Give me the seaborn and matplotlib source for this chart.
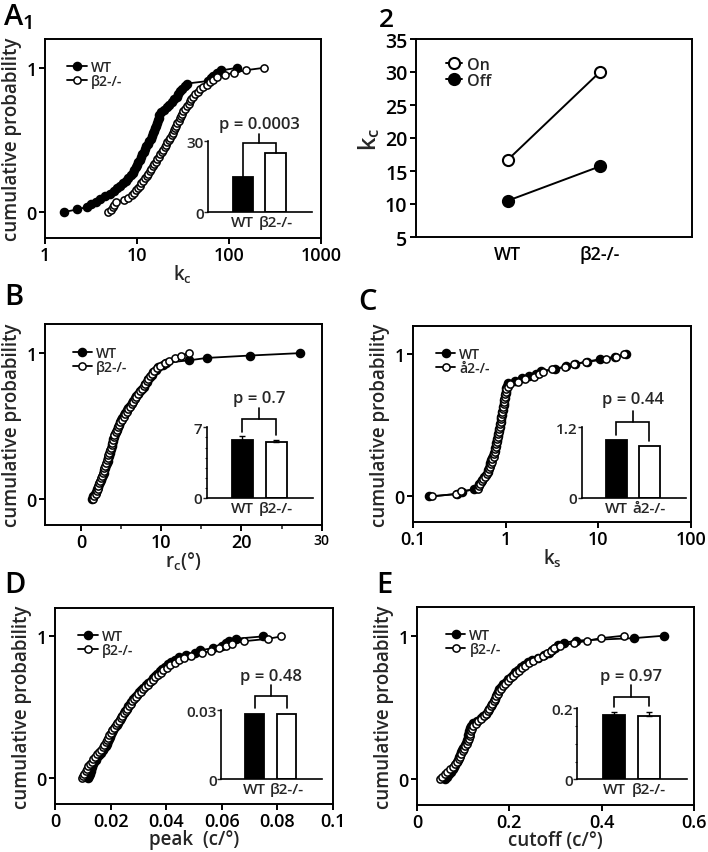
import numpy as np
import pandas as pd
import matplotlib
matplotlib.use('Agg')
import matplotlib.pyplot as plt
import seaborn as sns
from matplotlib.ticker import FixedLocator, FixedFormatter, NullLocator

sns.set_theme(style='ticks')
plt.rcParams['font.family'] = ['Open Sans', 'DejaVu Sans']
plt.rcParams['font.weight'] = 'semibold'
plt.rcParams['axes.labelweight'] = 'semibold'
plt.rcParams['mathtext.fontset'] = 'custom'
plt.rcParams['mathtext.rm'] = 'Open Sans:semibold'
plt.rcParams['mathtext.it'] = 'Open Sans:semibold'

# ---------------- data ----------------
genotypes = ['WT', 'β2-/-']
genotypes_c = ['WT', 'å2-/-']

# A1: kc
kc_wt = [1.6, 2.25, 2.9, 3.2, 3.6, 4.0, 4.5, 5.1, 5.6, 6.1, 6.6, 7.1, 7.6, 8.1, 8.6, 9.0, 9.4, 9.7,
         10.0, 10.4, 10.8, 11.1, 11.5, 11.8, 12.2, 12.7, 13.2, 13.7, 14.2, 14.7, 15.1, 15.5, 15.9,
         16.3, 16.6, 16.9, 17.2, 17.6, 18.5, 19.5, 21.0, 22.5, 24.0, 25.5, 27.0, 28.3, 29.5, 31.0,
         33.0, 35.0, 60, 64, 68, 75, 82, 123]
kc_ko = [4.9, 5.2, 5.5, 5.7, 5.9, 7.2, 8.0, 8.8, 9.4, 9.9, 10.4, 10.8, 11.2, 11.7, 12.2, 12.8, 13.3,
         13.8, 14.3, 14.8, 15.4, 16.0, 16.6, 17.2, 17.9, 18.6, 19.3, 20.0, 20.7, 21.5, 22.3, 23.0,
         23.8, 24.5, 25.2, 26.0, 26.8, 27.6, 28.4, 29.2, 30.0, 31.0, 32.0, 33.5, 35.0, 36.5, 38.0,
         39.2, 40.5, 43, 46, 49, 53, 58, 62, 67, 74, 90, 113, 152, 240]
kc_bar_means = [15.0, 25.0]
kc_bar_errs = [0.0, 0.0]

# A2: kc On / Off means
kc_on = [16.7, 30.0]
kc_off = [10.5, 15.7]

# B: rc
rc_wt = [1.3, 1.5, 1.7, 1.9, 2.0, 2.1, 2.2, 2.3, 2.45, 2.55, 2.7, 2.8, 2.9, 3.0, 3.1, 3.2, 3.3, 3.4,
         3.45, 3.55, 3.6, 3.7, 3.8, 3.85, 3.95, 4.0, 4.1, 4.2, 4.35, 4.5, 4.6, 4.75, 4.9, 5.0, 5.15,
         5.3, 5.5, 5.7, 5.9, 6.1, 6.3, 6.5, 6.7, 6.9, 7.1, 7.35, 7.6, 7.8, 8.0, 8.2, 8.4, 8.6, 8.8,
         9.0, 9.4, 9.6, 10.2, 10.6, 13.5, 15.7, 21.1, 27.3]
rc_ko = [1.5, 1.6, 1.8, 1.95, 2.05, 2.15, 2.25, 2.35, 2.45, 2.6, 2.7, 2.8, 2.9, 3.0, 3.1, 3.2, 3.3,
         3.4, 3.5, 3.6, 3.7, 3.8, 3.9, 3.95, 4.05, 4.15, 4.3, 4.45, 4.6, 4.75, 4.9, 5.1, 5.3, 5.5,
         5.7, 5.9, 6.1, 6.3, 6.5, 6.7, 6.9, 7.1, 7.35, 7.6, 7.8, 8.0, 8.2, 8.4, 8.6, 8.8, 9.1, 9.5,
         9.9, 10.4, 11.0, 11.7, 12.5, 13.4]
rc_bar_means = [5.75, 5.5]
rc_bar_errs = [0.35, 0.28]

# C: ks
ks_wt = [0.15, 0.30, 0.34, 0.45, 0.50, 0.52, 0.54, 0.56, 0.59, 0.62, 0.64, 0.65, 0.66, 0.67, 0.68,
         0.70, 0.72, 0.73, 0.75, 0.76, 0.77, 0.78, 0.79, 0.80, 0.81, 0.82, 0.83, 0.84, 0.85, 0.86,
         0.87, 0.88, 0.89, 0.90, 0.91, 0.92, 0.93, 0.94, 0.95, 0.96, 0.97, 0.98, 0.99, 1.0, 1.01,
         1.02, 1.04, 1.07, 1.25, 1.5, 1.8, 2.1, 2.4, 3.4, 4.5, 5.6, 7.5, 10.5, 15.0, 20.0]
ks_ko = [0.16, 0.29, 0.33, 0.50, 0.51, 0.53, 0.55, 0.57, 0.60, 0.63, 0.65, 0.66, 0.67, 0.69, 0.71,
         0.72, 0.74, 0.75, 0.76, 0.77, 0.78, 0.79, 0.80, 0.81, 0.82, 0.83, 0.84, 0.85, 0.86, 0.87,
         0.88, 0.89, 0.90, 0.91, 0.92, 0.93, 0.94, 0.95, 0.96, 0.97, 0.98, 0.99, 1.00, 1.02, 1.05,
         1.10, 1.35, 1.6, 2.0, 2.3, 2.5, 3.2, 4.4, 5.4, 7.3, 12.0, 15.5, 19.0]
ks_bar_means = [0.985, 0.89]
ks_bar_errs = [0.0, 0.0]

# D: peak
peak_wt = [0.0120, 0.0122, 0.0125, 0.0128, 0.0131, 0.0134, 0.0137, 0.0141, 0.0146, 0.0152, 0.0160,
           0.0167, 0.0173, 0.0178, 0.0182, 0.0186, 0.0190, 0.0194, 0.0197, 0.0200, 0.0204, 0.0210,
           0.0216, 0.0222, 0.0228, 0.0234, 0.0238, 0.0242, 0.0247, 0.0252, 0.0258, 0.0264, 0.0270,
           0.0275, 0.0281, 0.0287, 0.0294, 0.0302, 0.0310, 0.0318, 0.0327, 0.0336, 0.0344, 0.0352,
           0.0360, 0.0368, 0.0376, 0.0385, 0.0395, 0.0406, 0.0418, 0.0432, 0.0447, 0.0470, 0.0505,
           0.0520, 0.0570, 0.0600, 0.0615, 0.0625, 0.0650, 0.0748]
peak_ko = [0.0096, 0.0100, 0.0105, 0.0110, 0.0115, 0.0120, 0.0126, 0.0132, 0.0138, 0.0145, 0.0152,
           0.0160, 0.0167, 0.0172, 0.0177, 0.0182, 0.0186, 0.0190, 0.0195, 0.0200, 0.0206, 0.0212,
           0.0218, 0.0224, 0.0230, 0.0236, 0.0242, 0.0248, 0.0254, 0.0260, 0.0266, 0.0272, 0.0278,
           0.0285, 0.0292, 0.0300, 0.0308, 0.0316, 0.0325, 0.0334, 0.0343, 0.0352, 0.0361, 0.0370,
           0.0380, 0.0390, 0.0402, 0.0415, 0.0430, 0.0445, 0.0465, 0.0490, 0.0530, 0.0560, 0.0590,
           0.0615, 0.0635, 0.0680, 0.0766, 0.0814]
peak_bar_means = [0.0286, 0.0286]
peak_bar_errs = [0.0, 0.0]

# E: cutoff
cut_wt = [0.061, 0.065, 0.069, 0.073, 0.077, 0.080, 0.083, 0.086, 0.089, 0.092, 0.094, 0.096, 0.098,
          0.100, 0.103, 0.106, 0.108, 0.110, 0.111, 0.112, 0.113, 0.114, 0.116, 0.122, 0.130, 0.138,
          0.144, 0.150, 0.154, 0.157, 0.160, 0.163, 0.166, 0.168, 0.171, 0.173, 0.175, 0.178, 0.181,
          0.186, 0.192, 0.198, 0.203, 0.208, 0.213, 0.219, 0.225, 0.232, 0.240, 0.250, 0.262, 0.275,
          0.285, 0.293, 0.298, 0.305, 0.318, 0.345, 0.470, 0.535]
cut_ko = [0.049, 0.055, 0.061, 0.066, 0.072, 0.078, 0.083, 0.087, 0.090, 0.093, 0.096, 0.099, 0.102,
          0.105, 0.108, 0.110, 0.112, 0.114, 0.115, 0.117, 0.119, 0.122, 0.127, 0.133, 0.139, 0.145,
          0.150, 0.154, 0.157, 0.160, 0.163, 0.166, 0.169, 0.172, 0.175, 0.178, 0.181, 0.186, 0.191,
          0.197, 0.202, 0.208, 0.214, 0.220, 0.227, 0.234, 0.242, 0.252, 0.262, 0.272, 0.282, 0.290,
          0.297, 0.310, 0.340, 0.369, 0.398, 0.448]
cut_bar_means = [0.181, 0.179]
cut_bar_errs = [0.008, 0.011]

# ---------------- layout ----------------
W, H = 708, 853
fig = plt.figure(figsize=(W / 100, H / 100), dpi=100)
fig.patch.set_facecolor('white')

TICK_FS = 13
LAB_FS = 13.5
SMALL_FS = 11
LEG_FS = 10
LW = 1.4


def px_axes(x0, x1, y0, y1):
    return fig.add_axes([x0 / W, 1 - y1 / H, (x1 - x0) / W, (y1 - y0) / H])


def style_main(ax):
    for s in ax.spines.values():
        s.set_visible(True)
        s.set_linewidth(LW)
        s.set_color('black')
    ax.tick_params(axis='both', which='major', direction='out', length=4.5, width=LW,
                   labelsize=TICK_FS, colors='black', pad=1.5)
    ax.tick_params(axis='both', which='minor', direction='out', length=3, width=1.0)
    ax.set_facecolor('white')


def cdf_panel(ax, wt, ko, ko_label, xlog, xlim, xticks, xticklabels, xlabel, leg_anchor,
              xlabelpad=-1):
    for vals, face, ms in [(wt, 'black', 5.8), (ko, 'white', 5.2)]:
        v = np.sort(np.asarray(vals, float))
        df = pd.DataFrame({'value': v, 'cum': np.arange(len(v)) / (len(v) - 1)})
        sns.lineplot(data=df, x='value', y='cum', ax=ax, color='black', marker='o',
                     markersize=ms, markerfacecolor=face, markeredgecolor='black',
                     markeredgewidth=1.1, linewidth=1.3, sort=False, estimator=None,
                     legend=False)
    if xlog:
        ax.set_xscale('log')
    ax.set_xlim(*xlim)
    ax.set_ylim(-0.18, 1.2)
    ax.xaxis.set_major_locator(FixedLocator(xticks))
    ax.xaxis.set_major_formatter(FixedFormatter(xticklabels))
    ax.xaxis.set_minor_locator(NullLocator())
    ax.yaxis.set_major_locator(FixedLocator([0, 1]))
    ax.yaxis.set_major_formatter(FixedFormatter(['0', '1']))
    ax.yaxis.set_minor_locator(NullLocator())
    ax.set_xlabel(xlabel, fontsize=LAB_FS, labelpad=xlabelpad)
    ax.set_ylabel('cumulative probability', fontsize=LAB_FS, labelpad=3)
    style_main(ax)
    ax.legend(ax.lines[:2], ['WT', ko_label], loc='upper left', bbox_to_anchor=leg_anchor,
              frameon=False, fontsize=LEG_FS, handlelength=1.4, handletextpad=0.3,
              labelspacing=0.0, borderpad=0, borderaxespad=0, numpoints=1)


def inset(rect, means, errs, top, labels, ptext, br_h, stem_h, text_y, gap, minor=None):
    ax = px_axes(*rect)
    df = pd.DataFrame({'g': labels, 'm': means})
    sns.barplot(data=df, x='g', y='m', hue='g', palette=['black', 'white'], saturation=1,
                edgecolor='black', linewidth=1.3, width=0.62, legend=False, ax=ax,
                errorbar=None)
    pos = np.arange(len(labels))
    if any(e > 0 for e in errs):
        ax.errorbar(pos, means, yerr=[[0] * len(errs), errs], fmt='none', ecolor='black',
                    elinewidth=1.0, capsize=2.5, capthick=1.0, clip_on=False)
    ax.set_xlim(-1.05, 2.1)
    ax.set_ylim(0, top)
    for s in ['top', 'right']:
        ax.spines[s].set_visible(False)
    for s in ['left', 'bottom']:
        ax.spines[s].set_linewidth(1.2)
        ax.spines[s].set_color('black')
    ax.set_facecolor('none')
    ax.yaxis.set_major_locator(FixedLocator([0, top]))
    ax.yaxis.set_major_formatter(FixedFormatter(['0', f'{top:g}']))
    if minor is not None:
        ax.yaxis.set_minor_locator(FixedLocator(minor))
    ax.tick_params(axis='y', which='major', length=3, width=1.0, labelsize=SMALL_FS, pad=0)
    ax.tick_params(axis='y', which='minor', length=1.8, width=0.8)
    ax.tick_params(axis='x', length=0, labelsize=SMALL_FS, pad=2)
    ax.set_xlabel('')
    ax.set_ylabel('')
    # significance bracket
    legs = [m + e + gap * top for m, e in zip(means, errs)]
    h = br_h * top
    ax.plot([pos[0], pos[0], pos[1], pos[1]], [legs[0], h, h, legs[1]], color='black',
            lw=1.2, clip_on=False, solid_joinstyle='miter')
    mid = pos.mean()
    ax.plot([mid, mid], [h, stem_h * top], color='black', lw=1.2, clip_on=False)
    ax.text(mid, text_y * top, ptext, ha='center', va='center', fontsize=SMALL_FS + 1)
    return ax


# ---- A1 ----
axA = px_axes(45, 320.7, 40, 239)
cdf_panel(axA, kc_wt, kc_ko, genotypes[1], True, (1, 1000), [1, 10, 100, 1000],
          ['1', '10', '100', '1000'], 'k$_\\mathregular{c}$', (0.08, 0.895))
inset((208.3, 311.7, 142.3, 213.3), kc_bar_means, kc_bar_errs, 30, genotypes,
      'p = 0.0003', 0.975, 1.10, 1.25, 0.0)

# ---- A2 ----
ax2 = px_axes(415.7, 692, 40, 238)
xpos = np.arange(len(genotypes))
for vals, face in [(kc_on, 'white'), (kc_off, 'black')]:
    sns.lineplot(x=xpos, y=vals, ax=ax2, color='black', marker='o', markersize=8,
                 markerfacecolor=face, markeredgecolor='black', markeredgewidth=1.5,
                 linewidth=1.4, legend=False)
ax2.set_xlim(-1, 2)
ax2.set_ylim(5, 35)
ax2.xaxis.set_major_locator(FixedLocator(xpos))
ax2.xaxis.set_major_formatter(FixedFormatter(genotypes))
ax2.yaxis.set_major_locator(FixedLocator([5, 10, 15, 20, 25, 30, 35]))
ax2.set_ylabel('k$_\\mathregular{c}$', fontsize=17, labelpad=2)
style_main(ax2)
ax2.tick_params(axis='y', labelsize=14)
ax2.tick_params(axis='x', length=0, pad=6)
ax2.legend(ax2.lines[:2], ['On', 'Off'], loc='upper left', bbox_to_anchor=(0.11, 0.91),
           frameon=False, fontsize=LEG_FS + 1.5, handlelength=1.0, handletextpad=0.3,
           labelspacing=0.0, borderpad=0, borderaxespad=0, numpoints=1)

# ---- B ----
axB = px_axes(45, 321.7, 325, 526)
cdf_panel(axB, rc_wt, rc_ko, genotypes[1], False, (-4.5, 30), [0, 10, 20, 30],
          ['0', '10', '20', '30'], 'r$_\\mathregular{c}$(°)', (0.1, 0.89))
axB.xaxis.set_minor_locator(FixedLocator([5, 15, 25]))
axB.tick_params(axis='x', which='minor', length=3, width=1.2)
axB.get_xticklabels()[3].set_fontsize(10)
inset((206.7, 313.3, 428.3, 499), rc_bar_means, rc_bar_errs, 7, genotypes,
      'p = 0.7', 1.117, 1.27, 1.41, 0.06, minor=[1, 2, 3, 4, 5, 6])

# ---- C ----
axC = px_axes(413, 691, 327, 523)
cdf_panel(axC, ks_wt, ks_ko, genotypes_c[1], True, (0.1, 100), [0.1, 1, 10, 100],
          ['0.1', '1', '10', '100'], 'k$_\\mathregular{s}$', (0.082, 0.895))
inset((581.7, 685.7, 428.3, 499), ks_bar_means, ks_bar_errs, 1.2, genotypes_c,
      'p = 0.44', 1.08, 1.23, 1.40, 0.065)

# ---- D ----
axD = px_axes(55, 333, 609, 805)
cdf_panel(axD, peak_wt, peak_ko, genotypes[1], False, (0, 0.1),
          [0, 0.02, 0.04, 0.06, 0.08, 0.1], ['0', '0.02', '0.04', '0.06', '0.08', '0.1'],
          'peak  (c/°)', (0.083, 0.895), xlabelpad=-1)
inset((221, 321.7, 711.3, 780.3), peak_bar_means, peak_bar_errs, 0.03, genotypes,
      'p = 0.48', 1.207, 1.37, 1.49, 0.08)

# ---- E ----
axE = px_axes(417, 694, 608, 806)
cdf_panel(axE, cut_wt, cut_ko, genotypes[1], False, (0, 0.6), [0, 0.2, 0.4, 0.6],
          ['0', '0.2', '0.4', '0.6'], 'cutoff (c/°)', (0.104, 0.895), xlabelpad=-1)
inset((577.3, 687.3, 709.3, 780.3), cut_bar_means, cut_bar_errs, 0.2, genotypes,
      'p = 0.97', 1.165, 1.33, 1.46, 0.08, minor=[0.05, 0.1, 0.15])

# ---- panel labels ----
def plabel(x, y, s, fs=21):
    fig.text(x / W, 1 - y / H, s, fontsize=fs, ha='left', va='top', color='black')

plabel(3, 2, 'A$_\\mathregular{1}$')
plabel(379, 8, '2', fs=19)
plabel(4, 283, 'B')
plabel(358, 288, 'C')
plabel(4, 571, 'D')
plabel(376, 571, 'E')

fig.savefig('out.png', dpi=100, facecolor='white')
